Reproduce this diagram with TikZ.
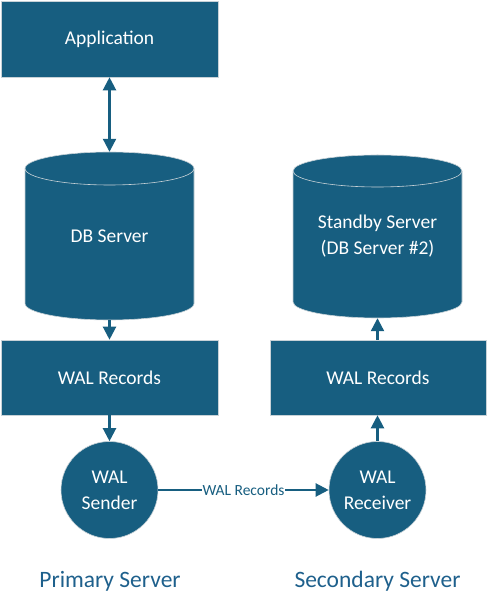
\documentclass[tikz,border=0pt]{standalone}
\usepackage{fontspec}
\setmainfont{Carlito}
\usetikzlibrary{arrows.meta}
\definecolor{boxblue}{RGB}{23,94,128}
\definecolor{labelblue}{RGB}{30,96,140}
\definecolor{edgegray}{RGB}{200,210,215}
\newcommand\ftMain{\fontsize{19.5}{26}\selectfont}
\newcommand\ftSmall{\fontsize{15.5}{18}\selectfont}
\newcommand\ftBig{\fontsize{23.5}{28}\selectfont}
\begin{document}
\begin{tikzpicture}[x=1pt,y=1pt,
  >={Triangle[width=13pt,length=13pt]},
  box/.style={rectangle, fill=boxblue, draw=edgegray, line width=0.6pt, text=white,
    minimum width=217pt, minimum height=75pt, inner sep=0pt, font=\ftMain},
  circ/.style={circle, fill=boxblue, draw=edgegray, line width=0.6pt, text=white,
    minimum size=97pt, inner sep=0pt, align=center, font=\ftMain},
  cylnode/.style={rectangle, minimum width=169pt, inner sep=0pt, text=white,
    align=center, font=\ftMain},
  cylbody/.style={fill=boxblue, draw=edgegray, line width=0.6pt},
  cylrim/.style={draw=edgegray, line width=0.6pt},
  conn/.style={draw=boxblue, line width=2.2pt, ->},
  caption/.style={text=labelblue, font=\ftBig}
]
\useasboundingbox (0,0) rectangle (487,608);

% cylinders (drawn shapes)
\path[cylbody] (25,439.5) -- (25,304.5)
  arc[start angle=180,end angle=360,x radius=84.5,y radius=16.5] -- (194,439.5)
  arc[start angle=0,end angle=180,x radius=84.5,y radius=16.5] -- cycle;
\draw[cylrim] (25,439.5) arc[start angle=180,end angle=360,x radius=84.5,y radius=16.5];

\path[cylbody] (293,437) -- (293,306)
  arc[start angle=180,end angle=360,x radius=84.5,y radius=16] -- (462,437)
  arc[start angle=0,end angle=180,x radius=84.5,y radius=16] -- cycle;
\draw[cylrim] (293,437) arc[start angle=180,end angle=360,x radius=84.5,y radius=16];

% nodes
\node[box, minimum height=76pt] (app) at (109.5,569) {Application};
\node[cylnode, minimum height=168pt] (db) at (109.5,372) {DB Server};
\node[box] (walL) at (109.5,230.5) {WAL Records};
\node[circ] (snd) at (109.5,118) {WAL\\Sender};
\node[cylnode, minimum height=163pt] (sb) at (377.5,371.5) {Standby Server\\(DB Server \#2)};
\node[box, minimum width=216pt] (walR) at (378,230.5) {WAL Records};
\node[circ] (rcv) at (377.5,118) {WAL\\Receiver};

\node[caption] (prim) at (110,27) {Primary Server};
\node[caption] (sec) at (377.5,27) {Secondary Server};

% connectors
\draw[conn, <->] (app) -- (db);
\draw[conn] (db) -- (walL);
\draw[conn] (walL) -- (snd);
\draw[conn] (snd) -- node[fill=white, text=boxblue, font=\ftSmall, inner sep=1pt] (lbl) {WAL Records} (rcv);
\draw[conn] (rcv.north) -- (rcv.north |- walR.south);
\draw[conn] (walR.north -| sb.south) -- (sb.south);
\end{tikzpicture}
\end{document}
